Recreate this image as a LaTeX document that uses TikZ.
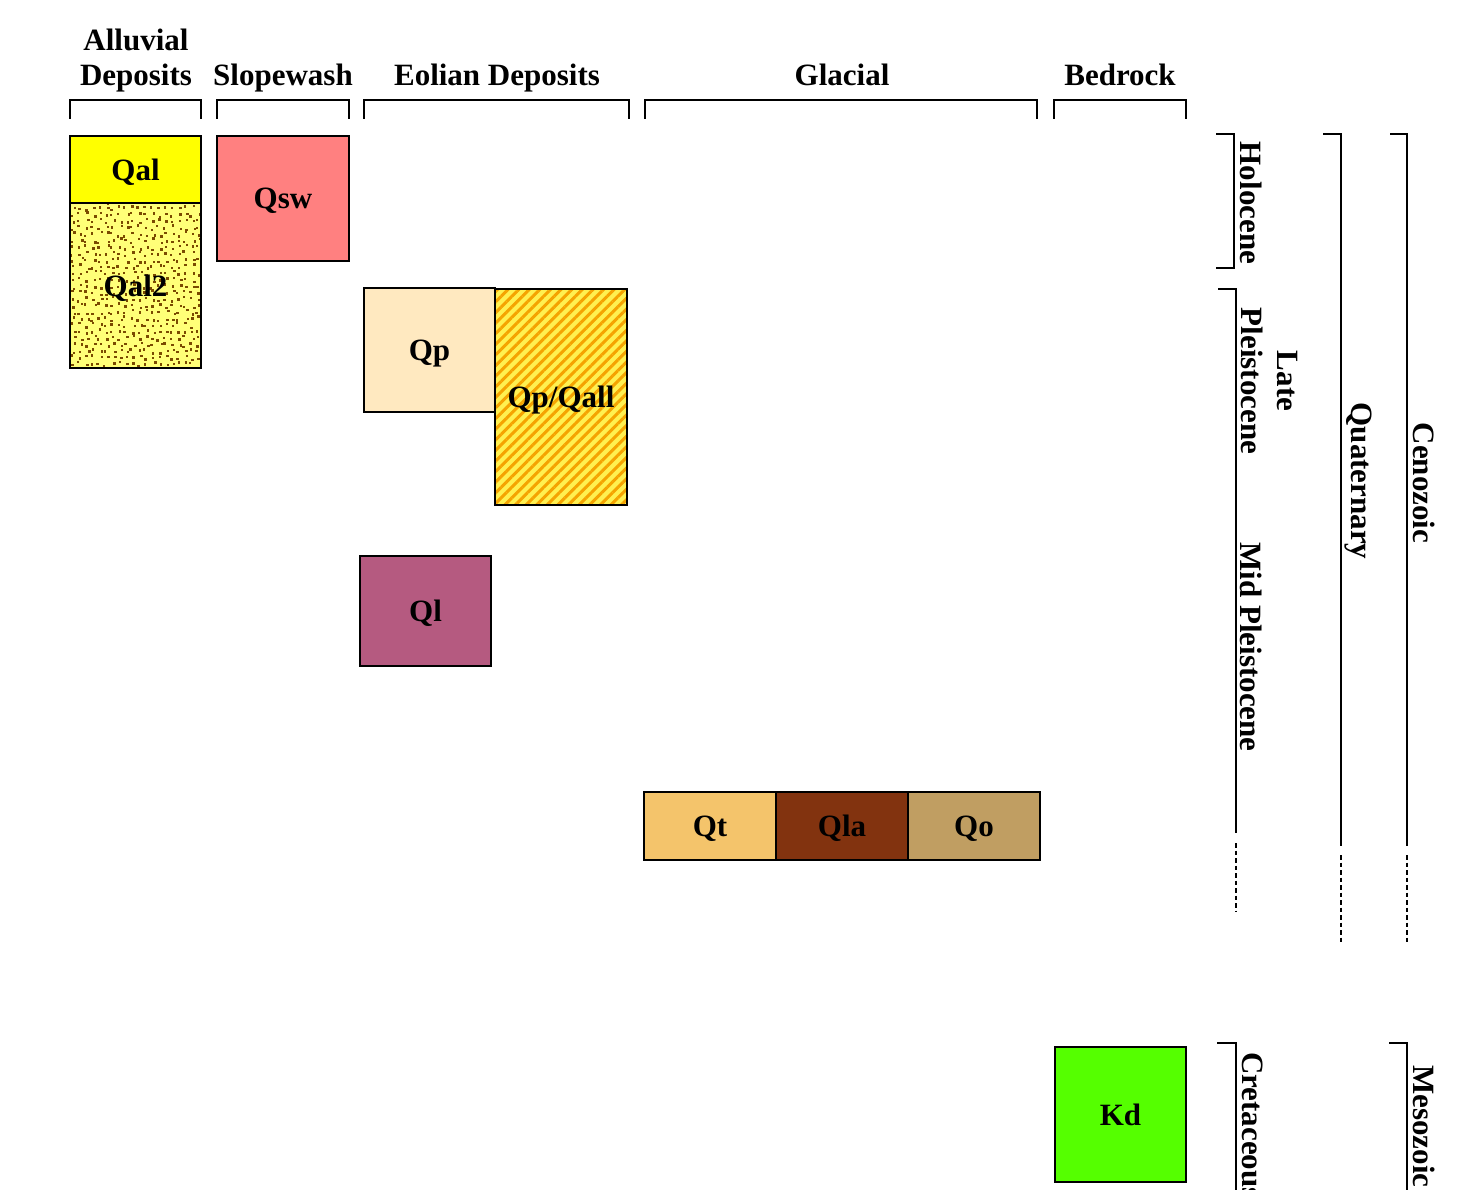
\documentclass[tikz,border=0pt]{standalone}
\usepackage{fontspec}
\setmainfont{Liberation Serif}
\usetikzlibrary{patterns.meta}
\definecolor{cQal}{HTML}{FFFF00}
\definecolor{cQalb}{HTML}{FFFF78}
\definecolor{cdot}{HTML}{7A4A00}
\definecolor{cQsw}{HTML}{FF8080}
\definecolor{cQp}{HTML}{FFE9C0}
\definecolor{cQpy}{HTML}{FFF050}
\definecolor{cstripe}{HTML}{F5A300}
\definecolor{cQl}{HTML}{B55A80}
\definecolor{cQt}{HTML}{F4C46B}
\definecolor{cQla}{HTML}{82330F}
\definecolor{cQo}{HTML}{C09E62}
\definecolor{cKd}{HTML}{55FF00}
\begin{document}
\begin{tikzpicture}[x=1pt,y=-1pt,
  lbl/.style={font=\fontsize{31}{36}\selectfont\bfseries, inner sep=0pt},
  unitbox/.style={draw=black, line width=2pt, inner sep=0pt, text depth=0pt,
    font=\fontsize{31}{36}\selectfont\bfseries},
  brk/.style={line width=2.8pt},
  dots/.style={line width=2.8pt, dash pattern=on 4.5pt off 3pt},
  vlbl/.style={lbl, rotate=-90}]
\useasboundingbox (0,0) rectangle (1477,1190);
\clip (0,0) rectangle (1477,1190);

% header labels
\node[lbl, anchor=base] (hall) at (136,51) {Alluvial};
\node[lbl, anchor=base] (hdep) at (136,86) {Deposits};
\node[lbl, anchor=base] (hslo) at (283,86) {Slopewash};
\node[lbl, anchor=base] (heol) at (497,86) {Eolian Deposits};
\node[lbl, anchor=base] (hgla) at (842,86) {Glacial};
\node[lbl, anchor=base] (hbed) at (1120,86) {Bedrock};

% header brackets
\draw[brk] (70,119) |- (201,100) -- (201,119);
\draw[brk] (217,119) |- (349,100) -- (349,119);
\draw[brk] (364,119) |- (629,100) -- (629,119);
\draw[brk] (645,119) |- (1037,100) -- (1037,119);
\draw[brk] (1054,119) |- (1186,100) -- (1186,119);

% units
\node[unitbox, fill=cQal, minimum width=131pt, minimum height=67pt] (qal) at (135.5,169.5) {Qal};
\node[unitbox, fill=cQalb, minimum width=131pt, minimum height=165pt,
  path picture={
    \pgfmathsetseed{42}
    \foreach \i in {0,...,19}{\foreach \j in {0,...,25}{
      \pgfmathsetmacro\px{\i*6.6+rnd*5}
      \pgfmathsetmacro\py{\j*6.5+rnd*5}
      \fill[cdot] ([shift={(\px pt,\py pt)}]path picture bounding box.south west) rectangle ++(2.4pt,2.4pt);
    }}}] (qal2) at (135.5,285.5) {Qal2};
\node[unitbox, fill=cQsw, minimum width=132pt, minimum height=125pt] (qsw) at (283,198.5) {Qsw};
\node[unitbox, fill=cQp, minimum width=131pt, minimum height=124pt] (qp) at (429.5,350) {Qp};
\node[unitbox, fill=cQpy, minimum width=132pt, minimum height=216pt,
  path picture={
    \fill[pattern={Lines[angle=45,distance=7.5pt,line width=3pt]}, pattern color=cstripe]
      (path picture bounding box.south west) rectangle (path picture bounding box.north east);
  }] (qpqall) at (561,397) {Qp/Qall};
\node[unitbox, fill=cQl, minimum width=131pt, minimum height=110pt] (ql) at (425.5,611) {Ql};
\node[unitbox, fill=cQt, minimum width=132pt, minimum height=68pt] (qt) at (710,826) {Qt};
\node[unitbox, fill=cQla, minimum width=132pt, minimum height=68pt] (qla) at (842,826) {Qla};
\node[unitbox, fill=cQo, minimum width=132pt, minimum height=68pt] (qo) at (974,826) {Qo};
\node[unitbox, fill=cKd, minimum width=131pt, minimum height=135pt] (kd) at (1120.5,1114.5) {Kd};

% time brackets
\draw[brk] (1216,134) -| (1234,268) -- (1216,268);
\draw[brk] (1218,289) -| (1236,833);
\draw[dots] (1236,843) -- (1236,912);
\draw[brk] (1323,134) -| (1341,846);
\draw[dots] (1341,855) -- (1341,945);
\draw[brk] (1390,134) -| (1407,846);
\draw[dots] (1407,855) -- (1407,945);
\draw[brk] (1217,1043) -| (1236,1195);
\draw[brk] (1389,1043) -| (1407,1195);

% time labels
\node[vlbl] (holo) at (1251,203) {Holocene};
\node[vlbl, align=center] (lpl) at (1269,381) {Late\\Pleistocene};
\node[vlbl] (mpl) at (1251,647) {Mid Pleistocene};
\node[vlbl] (quat) at (1358,481) {Quaternary};
\node[vlbl] (ceno) at (1424,483) {Cenozoic};
\node[vlbl, anchor=west] (cret) at (1253,1052) {Cretaceous};
\node[vlbl, anchor=west] (meso) at (1424,1065) {Mesozoic};
\end{tikzpicture}
\end{document}
